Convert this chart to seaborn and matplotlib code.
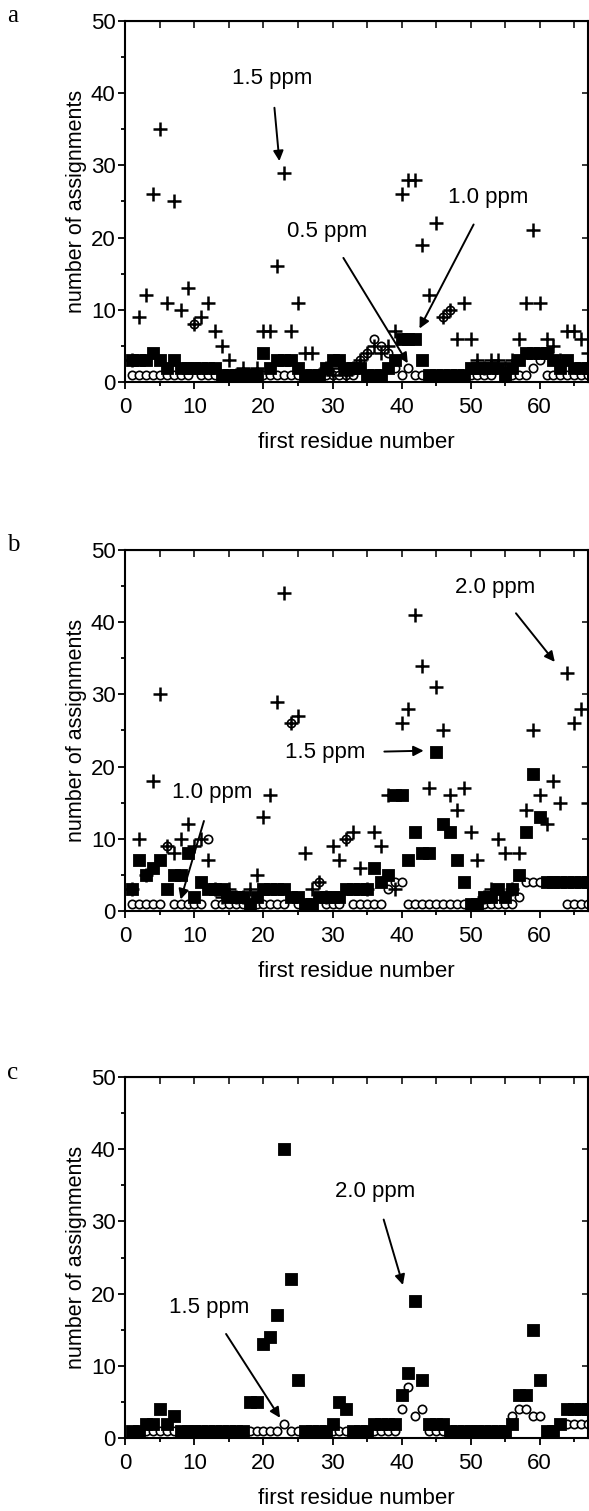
import numpy as np
import pandas as pd
import matplotlib
matplotlib.use("Agg")
import matplotlib.pyplot as plt
import seaborn as sns

# residue numbers shared by all panels
residues = list(range(1, 68))

# panel a: 1.5 ppm (+), 1.0 ppm (filled squares), 0.5 ppm (open circles)
a_plus = [3, 9, 12, 26, 35, 11, 25, 10, 13, 8, 9, 11, 7, 5, 3, 1, 2, 1, 2, 7,
          7, 16, 29, 7, 11, 4, 4, 1, 2, 1, 2, 1, 2, 3, 4, 5, 4, 5, 7, 26,
          28, 28, 19, 12, 22, 9, 10, 6, 11, 6, 3, 2, 3, 3, 2, 3, 6, 11, 21, 11,
          6, 5, 3, 7, 7, 6, 4]
a_square = [3, 3, 3, 4, 3, 2, 3, 2, 2, 2, 2, 2, 2, 1, 1, 1, 1, 1, 1, 4,
            2, 3, 3, 3, 2, 1, 1, 1, 2, 3, 3, 2, 2, 2, 1, 1, 1, 2, 3, 6,
            6, 6, 3, 1, 1, 1, 1, 1, 1, 2, 2, 2, 2, 2, 1, 2, 3, 4, 4, 4,
            4, 3, 2, 3, 2, 2, 2]
a_circle = [1, 1, 1, 1, 1, 1, 1, 1, 1, 8, 1, 1, 1, 1, 1, 1, 1, 1, 1, 1,
            1, 1, 1, 1, 1, 1, 1, 1, 1, 1, 1, 1, 1, 3, 4, 6, 5, 4, 2, 1,
            2, 1, 1, 1, 1, 9, 10, 1, 1, 1, 1, 1, 1, 2, 2, 1, 1, 1, 2, 3,
            1, 1, 1, 1, 1, 1, 1]

# panel b: 2.0 ppm (+), 1.5 ppm (filled squares), 1.0 ppm (open circles)
b_plus = [3, 10, 5, 18, 30, 9, 8, 10, 12, 9, 10, 7, 3, 2, 3, 2, 2, 3, 5, 13,
          16, 29, 44, 26, 27, 8, 3, 4, 2, 9, 7, 10, 11, 6, 3, 11, 9, 16, 3, 26,
          28, 41, 34, 17, 31, 25, 16, 14, 17, 11, 7, 2, 3, 10, 8, 3, 8, 14, 25, 16,
          12, 18, 15, 33, 26, 28, 15]
b_square = [3, 7, 5, 6, 7, 3, 5, 5, 8, 2, 4, 3, 3, 3, 2, 2, 2, 1, 2, 3,
            3, 3, 3, 2, 2, 1, 1, 2, 2, 2, 2, 3, 3, 3, 3, 6, 4, 5, 16, 16,
            7, 11, 8, 8, 22, 12, 11, 7, 4, 1, 1, 2, 2, 3, 2, 3, 5, 11, 19, 13,
            4, 4, 4, 4, 4, 4, 4]
b_circle = [1, 1, 1, 1, 1, 9, 1, 1, 1, 1, 1, 10, 1, 1, 1, 1, 1, 1, 1, 1,
            1, 1, 1, 26, 1, 1, 1, 4, 1, 1, 1, 10, 1, 1, 1, 1, 1, 3, 4, 4,
            1, 1, 1, 1, 1, 1, 1, 1, 1, 1, 1, 1, 1, 1, 1, 1, 2, 4, 4, 4,
            4, 4, 4, 1, 1, 1, 1]

# panel c: 2.0 ppm (filled squares), 1.5 ppm (open circles)
c_square = [1, 1, 2, 2, 4, 2, 3, 1, 1, 1, 1, 1, 1, 1, 1, 1, 1, 5, 5, 13,
            14, 17, 40, 22, 8, 1, 1, 1, 1, 2, 5, 4, 1, 1, 1, 2, 2, 2, 2, 6,
            9, 19, 8, 2, 2, 2, 1, 1, 1, 1, 1, 1, 1, 1, 1, 2, 6, 6, 15, 8,
            1, 1, 2, 4, 4, 4, 4]
c_circle = [1, 1, 1, 1, 1, 1, 1, 1, 1, 1, 1, 1, 1, 1, 1, 1, 1, 1, 1, 1,
            1, 1, 2, 1, 1, 1, 1, 1, 1, 1, 1, 1, 1, 1, 1, 1, 1, 1, 1, 4,
            7, 3, 4, 1, 1, 1, 1, 1, 1, 1, 1, 1, 1, 1, 1, 3, 4, 4, 3, 3,
            1, 1, 2, 2, 2, 2, 2]

sns.set_style("ticks")
plt.rcParams["font.family"] = ["Liberation Sans", "DejaVu Sans"]
plt.rcParams["text.color"] = "black"
plt.rcParams["axes.labelcolor"] = "black"

fig = plt.figure(figsize=(5.89, 15.11), dpi=100)

panels = [
    ("a", [0.2129, 0.7472, 0.7853, 0.2389],
     [(a_circle, "o"), (a_square, "s"), (a_plus, "+")],
     [("1.5 ppm", (21.2, 42.0), (22.3, 30.6)),
      ("1.0 ppm", (52.5, 25.6), (42.6, 7.4)),
      ("0.5 ppm", (29.2, 20.9), (40.9, 2.6))]),
    ("b", [0.2129, 0.3971, 0.7853, 0.2389],
     [(b_circle, "o"), (b_square, "s"), (b_plus, "+")],
     [("2.0 ppm", (53.6, 44.8), (62.2, 34.5)),
      ("1.5 ppm", (29.0, 21.9), (43.2, 22.2)),
      ("1.0 ppm", (12.6, 16.4), (8.0, 1.6))]),
    ("c", [0.2129, 0.0483, 0.7853, 0.2389],
     [(c_circle, "o"), (c_square, "s")],
     [("2.0 ppm", (36.2, 34.2), (40.2, 21.2)),
      ("1.5 ppm", (12.1, 18.1), (22.4, 2.8))]),
]

for letter, rect, series, notes in panels:
    ax = fig.add_axes(rect)
    for values, marker in series:
        df = pd.DataFrame({"residue": residues, "count": values})
        if marker == "+":
            sns.scatterplot(data=df, x="residue", y="count", ax=ax, marker="+",
                            color="black", s=100, linewidth=1.8, zorder=4)
        elif marker == "s":
            sns.scatterplot(data=df, x="residue", y="count", ax=ax, marker="s",
                            color="black", edgecolor="black", s=72,
                            linewidth=0.6, zorder=3)
        else:
            sns.scatterplot(data=df, x="residue", y="count", ax=ax, marker="o",
                            color="white", edgecolor="black", s=36,
                            linewidth=1.2, zorder=2)

    for text, xy_text, xy_tip in notes:
        ax.annotate(text, xy=xy_tip, xytext=xy_text, fontsize=16,
                    ha="center", va="center", zorder=6, color="black",
                    arrowprops=dict(arrowstyle="-|>", color="black", lw=1.4,
                                    shrinkA=11, shrinkB=0,
                                    mutation_scale=15))

    ax.set_xlim(0, 67)
    ax.set_ylim(0, 50)
    ax.set_xticks(range(0, 61, 10))
    ax.set_xticks(range(0, 66, 5), minor=True)
    ax.set_yticks(range(0, 51, 10))
    ax.set_yticks(range(0, 51, 5), minor=True)
    ax.tick_params(which="both", direction="out", width=1.3, labelsize=16,
                   colors="black")
    ax.tick_params(axis="x", which="both", pad=6)
    ax.tick_params(axis="y", which="both", pad=2)
    ax.tick_params(which="major", length=5)
    ax.tick_params(which="minor", length=3)
    for side in ["top", "right", "bottom", "left"]:
        ax.spines[side].set_visible(True)
        ax.spines[side].set_linewidth(1.5)
        ax.spines[side].set_color("black")

    top = ax.secondary_xaxis("top")
    top.set_xticks(range(0, 66, 5))
    top.tick_params(direction="in", length=5, width=1.3, labeltop=False)
    right = ax.secondary_yaxis("right")
    right.set_yticks(range(0, 51, 10))
    right.tick_params(direction="in", length=4, width=1.3, labelright=False)

    ax.set_xlabel("first residue number", fontsize=16, labelpad=10)
    ax.set_ylabel("number of assignments", fontsize=15.5, labelpad=3)
    ax.grid(False)

    fig.text(0.012, rect[1] + rect[3] + 0.003, letter, family="Liberation Serif",
             fontsize=18, ha="left", va="center")

fig.savefig("out.png", dpi=100)
